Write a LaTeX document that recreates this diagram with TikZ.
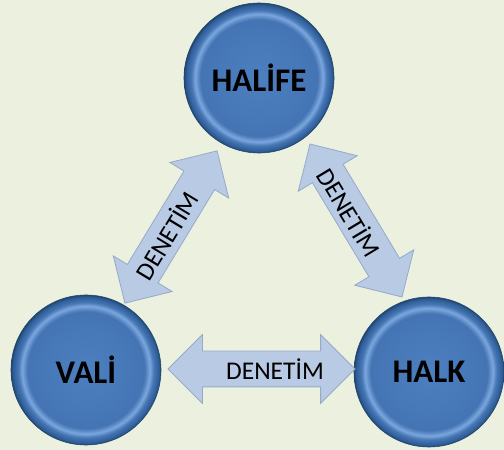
\documentclass[tikz,border=0pt]{standalone}
\usepackage{fontspec}
\setmainfont{Carlito}
\usetikzlibrary{shapes.arrows}

\definecolor{bggreen}{HTML}{EBF1DE}
\definecolor{ballmain}{HTML}{4D80C1}
\definecolor{balldeep}{HTML}{4474B3}
\definecolor{ballring}{HTML}{7BA7DE}
\definecolor{ballband}{HTML}{4676B5}
\definecolor{ballrim}{HTML}{2F5D97}
\definecolor{balledge}{HTML}{22466F}
\definecolor{arrowfill}{HTML}{B9CAE4}
\definecolor{arrowedge}{HTML}{95A9C9}

\pgfdeclareradialshading{ballshade}{\pgfpoint{0bp}{0bp}}{%
  color(0bp)=(ballmain); color(19.5bp)=(balldeep); color(21.3bp)=(ballring);
  color(22.6bp)=(ballband); color(24.3bp)=(ballrim); color(25bp)=(balledge);
  color(50bp)=(balledge)}

\tikzset{
  ball/.style={circle, minimum size=150pt, inner sep=0pt, shading=ballshade,
    draw=balledge, line width=0.6pt, font=\fontsize{33}{36}\selectfont\bfseries},
  dblarrow/.style={double arrow, minimum height=#1, inner xsep=0pt, inner ysep=17.5pt,
    double arrow head extend=16.5pt, double arrow tip angle=90,
    fill=arrowfill, draw=arrowedge, line width=0.8pt},
  arrowtext/.style={font=\fontsize{25.5}{28}\selectfont, inner sep=0pt}
}

\begin{document}
\begin{tikzpicture}[x=1pt,y=1pt]
    \path[use as bounding box, fill=bggreen] (0,0) rectangle (504,450);

    \node[ball] (halife) at (259,372) {HALİFE};
    \node[ball] (vali)   at ( 86, 80) {VALİ};
    \node[ball] (halk)   at (429, 78) {HALK};

    \node[dblarrow=187pt]               (arrbottom) at (261.5, 81)   {};
    \node[dblarrow=178pt, rotate=58.8]  (arrleft)   at (171, 223)    {};
    \node[dblarrow=178.5pt, rotate=-59] (arrright)  at (356, 229.5)  {};

    \node[arrowtext]              (txtbottom) at (275, 81)  {DENETİM};
    \node[arrowtext, rotate=58.8] (txtleft)   at (166, 215) {DENETİM};
    \node[arrowtext, rotate=-59]  (txtright)  at (350, 238) {DENETİM};
\end{tikzpicture}
\end{document}
